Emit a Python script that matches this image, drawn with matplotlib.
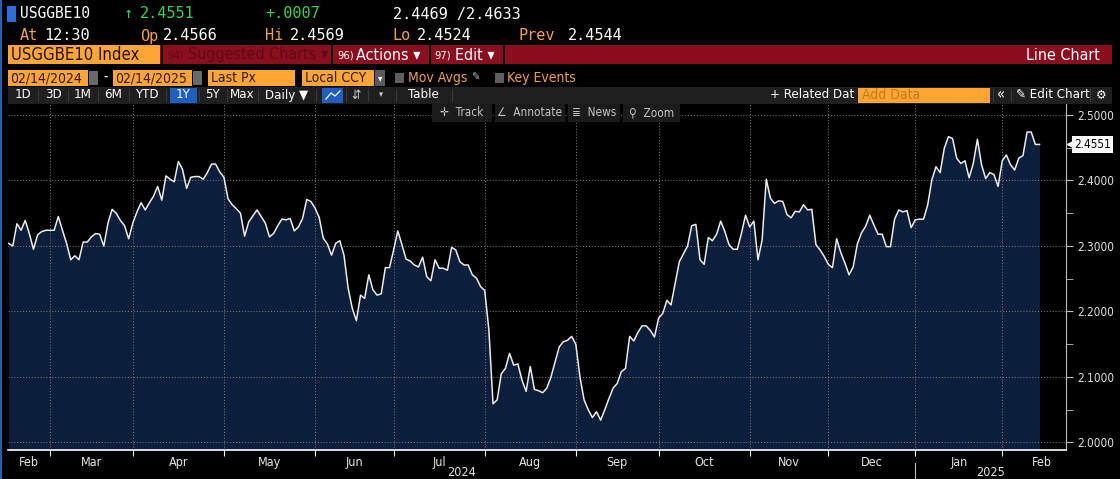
import numpy as np
import pandas as pd
import matplotlib
matplotlib.use("Agg")
import matplotlib.pyplot as plt
from matplotlib import font_manager
from matplotlib.patches import Rectangle
from matplotlib.lines import Line2D
from matplotlib.transforms import blended_transform_factory

# Header quote fields
ticker = "USGGBE10"
last_px = 2.4551
change = "+.0007"
bid_px, ask_px = 2.4469, 2.4633
quote_time = "12:30"
open_px, high_px, low_px, prev_px = 2.4566, 2.4569, 2.4524, 2.4544
start_txt, end_txt = "02/14/2024", "02/14/2025"

# US bond market holidays in the window
holidays = ["2024-02-19", "2024-03-29", "2024-05-27", "2024-06-19", "2024-07-04",
            "2024-09-02", "2024-10-14", "2024-11-11", "2024-11-28", "2024-12-25",
            "2025-01-01", "2025-01-20"]

# daily closes, one list per month
feb24 = [2.304, 2.300, 2.334, 2.324, 2.339, 2.319, 2.295, 2.317, 2.322, 2.324]
mar24 = [2.324, 2.324, 2.345, 2.324, 2.304, 2.279, 2.285, 2.279, 2.306, 2.306,
         2.314, 2.319, 2.318, 2.300, 2.335, 2.356, 2.350, 2.339, 2.331, 2.311]
apr24 = [2.335, 2.352, 2.366, 2.355, 2.366, 2.376, 2.391, 2.370, 2.407, 2.402,
         2.398, 2.429, 2.417, 2.388, 2.405, 2.406, 2.406, 2.402, 2.412, 2.425,
         2.425, 2.413]
may24 = [2.405, 2.372, 2.363, 2.357, 2.350, 2.315, 2.337, 2.346, 2.355, 2.345,
         2.335, 2.314, 2.319, 2.331, 2.341, 2.340, 2.342, 2.323, 2.329, 2.342,
         2.371, 2.368]
jun24 = [2.358, 2.344, 2.312, 2.303, 2.286, 2.304, 2.308, 2.286, 2.236, 2.205,
         2.186, 2.225, 2.220, 2.256, 2.233, 2.225, 2.227, 2.267, 2.267]
jul24 = [2.294, 2.323, 2.302, 2.280, 2.277, 2.271, 2.268, 2.283, 2.253, 2.247,
         2.279, 2.266, 2.266, 2.263, 2.298, 2.294, 2.276, 2.271, 2.271, 2.256,
         2.251, 2.238]
aug24 = [2.232, 2.172, 2.059, 2.065, 2.105, 2.113, 2.136, 2.118, 2.120, 2.095,
         2.078, 2.116, 2.081, 2.079, 2.076, 2.083, 2.100, 2.123, 2.146, 2.154,
         2.156, 2.162]
sep24 = [2.150, 2.100, 2.065, 2.050, 2.038, 2.047, 2.034, 2.050, 2.067, 2.083,
         2.090, 2.108, 2.113, 2.162, 2.155, 2.168, 2.178, 2.178, 2.171, 2.161]
oct24 = [2.190, 2.197, 2.217, 2.210, 2.243, 2.276, 2.288, 2.300, 2.331, 2.333,
         2.279, 2.272, 2.313, 2.308, 2.318, 2.338, 2.322, 2.302, 2.295, 2.295,
         2.319, 2.347]
nov24 = [2.329, 2.338, 2.279, 2.309, 2.402, 2.373, 2.365, 2.369, 2.368, 2.348,
         2.343, 2.353, 2.352, 2.363, 2.355, 2.356, 2.302, 2.294, 2.284]
dec24 = [2.272, 2.267, 2.311, 2.290, 2.274, 2.256, 2.268, 2.303, 2.320, 2.330,
         2.347, 2.332, 2.318, 2.318, 2.299, 2.299, 2.341, 2.355, 2.352, 2.354,
         2.328]
jan25 = [2.340, 2.341, 2.341, 2.363, 2.401, 2.421, 2.412, 2.449, 2.467, 2.464,
         2.434, 2.426, 2.430, 2.404, 2.426, 2.463, 2.424, 2.403, 2.412, 2.409,
         2.391]
feb25 = [2.430, 2.439, 2.424, 2.416, 2.434, 2.438, 2.474, 2.474, 2.455, 2.4551]

y_ticks = [2.0, 2.1, 2.2, 2.3, 2.4, 2.5]

values = np.array(feb24 + mar24 + apr24 + may24 + jun24 + jul24 + aug24 +
                  sep24 + oct24 + nov24 + dec24 + jan25 + feb25)
dates = pd.bdate_range("2024-02-15", "2025-02-14", freq="C", holidays=holidays)
x = np.arange(len(dates))

W, H = 1120, 479
BG = "black"
NAVY = "#0b1f3c"
AMBER = "#ffa533"
ORANGE = "#f0a04b"
GREEN = "#35d44f"
RED_BAR = "#8b0e1f"

# narrow-ish UI font: condensed DejaVu if present, else Liberation Sans
fonts = font_manager.fontManager.ttflist
if any(f.name == "DejaVu Sans" and f.stretch == "condensed" for f in fonts):
    plt.rcParams["font.stretch"] = "condensed"
    FONT = ["DejaVu Sans"]
else:
    FONT = ["Liberation Sans", "DejaVu Sans"]
MONO = ["DejaVu Sans Mono", "DejaVu Sans"]
plt.rcParams["font.family"] = FONT

fig = plt.figure(figsize=(W / 100, H / 100), dpi=100, facecolor=BG)


def txt(x0, y0, s, color="white", size=10, ha="left", family=None, **kw):
    fig.text(x0 / W, 1 - y0 / H, s, color=color, fontsize=size, ha=ha,
             va="center", family=family or FONT, **kw)


def box(x0, y0, x1, y1, color, z=1):
    fig.add_artist(Rectangle((x0 / W, 1 - y1 / H), (x1 - x0) / W, (y1 - y0) / H,
                             transform=fig.transFigure, facecolor=color,
                             edgecolor="none", zorder=z))


# ---- chart ----
ax = fig.add_axes([8 / W, 1 - 450 / H, (1066 - 8) / W, (450 - 104) / H])
ax.set_facecolor(BG)
y_bottom, y_top = 1.9885, 2.5168
ax.fill_between(x, values, y_bottom, color=NAVY, lw=0, zorder=1)
ax.plot(x, values, color="#ececec", lw=1.1, zorder=2)
ax.set_xlim(-0.15, 255.4)
ax.set_ylim(y_bottom, y_top)
ax.set_axisbelow("line")

# month boundaries and label centres
month_starts = [i for i in range(1, len(dates)) if dates[i].month != dates[i - 1].month]
feb_full = len(pd.bdate_range("2025-02-01", "2025-02-28", freq="C", holidays=["2025-02-17"]))
edges = [0] + month_starts + [month_starts[-1] + feb_full]
mids = [(a + b) / 2 for a, b in zip(edges[:-1], edges[1:])]
mlabels = [dates[0].strftime("%b")] + [dates[i].strftime("%b") for i in month_starts]

ax.set_xticks(month_starts)
ax.set_xticklabels([])
ax.set_xticks(mids, minor=True)
ax.set_xticklabels(mlabels, minor=True)
ax.tick_params(axis="x", which="major", length=4, color="white", direction="out")
ax.tick_params(axis="x", which="minor", length=0, pad=4, labelcolor="#e6e6e6", labelsize=9)

ax.yaxis.tick_right()
ax.set_yticks(y_ticks)
ax.set_yticklabels([f"{v:.4f}" for v in y_ticks])
ax.set_yticks([v + 0.05 for v in y_ticks[:-1]], minor=True)
ax.tick_params(axis="y", which="both", length=5, color="#bdbdbd", direction="out",
               pad=3, labelcolor="#e0e0e0", labelsize=8.5)

ax.grid(which="major", color="#808080", linestyle=(0, (1, 2)), lw=0.7)
for s in ["left", "top"]:
    ax.spines[s].set_visible(False)
ax.spines["bottom"].set_color("white")
ax.spines["bottom"].set_linewidth(1.2)
ax.spines["right"].set_color("#bdbdbd")

# year labels and separator
blend = blended_transform_factory(ax.transData, ax.transAxes)
jan_idx = [i for i in month_starts if dates[i].month == 1][0]
ax.text((ax.get_xlim()[0] + jan_idx) / 2, -0.064, str(dates[0].year), transform=blend,
        ha="center", va="center", color="#e6e6e6", fontsize=9)
ax.text((jan_idx + ax.get_xlim()[1]) / 2, -0.064, str(dates[-1].year), transform=blend,
        ha="center", va="center", color="#e6e6e6", fontsize=9)
ax.plot([jan_idx, jan_idx], [-0.038, -0.09], transform=blend, color="#bdbdbd",
        lw=0.8, clip_on=False)

# last price tag
tag = blended_transform_factory(ax.transAxes, ax.transData)
ax.plot([1.004], [values[-1]], marker="<", ms=5, color="white", transform=tag, clip_on=False)
ax.text(1.0075, values[-1], f"{values[-1]:.4f}", transform=tag, ha="left", va="center",
        color="black", fontsize=8.5,
        bbox=dict(boxstyle="square,pad=0.2", fc="white", ec="none"))

# ---- header ----
box(0, 0, 2, H, "#2a5fb0", z=5)
box(7, 6, 16, 22, "#2d6fd8")
txt(20, 14, ticker, size=10.5, family=MONO)
txt(124, 14, "\u2191", GREEN, 11, family=MONO)
txt(140, 14, f"{last_px:.4f}", GREEN, 11, family=MONO)
txt(265, 14, change, GREEN, 11, family=MONO)
txt(393, 14, f"{bid_px:.4f} /{ask_px:.4f}", size=11, family=MONO)

for lab, lx, val, vx in [("At", 20, quote_time, 44), ("Op", 140, f"{open_px:.4f}", 163),
                         ("Hi", 265, f"{high_px:.4f}", 290), ("Lo", 392, f"{low_px:.4f}", 417),
                         ("Prev", 518, f"{prev_px:.4f}", 568)]:
    txt(lx, 36, lab, ORANGE, 11, family=MONO)
    txt(vx, 36, val, "white", 11, family=MONO)

# red menu bar
box(160, 45, 1112, 64, RED_BAR)
box(8, 45, 160, 64, AMBER)
txt(11, 55, f"{ticker} Index", "#1a1200", 12)
for sx in [161, 331, 429, 503]:
    box(sx, 45, sx + 2, 64, "black", z=2)
txt(167, 55, "94)", "#5c0b16", 8)
txt(188, 55, "Suggested Charts \u25be", "#5c0b16", 11.5)
txt(337, 55, "96)", "white", 8)
txt(356, 55, "Actions \u25be", "white", 11.5)
txt(434, 55, "97)", "white", 8)
txt(455, 55, "Edit \u25be", "white", 11.5)
txt(1100, 55, "Line Chart", "white", 11.5, ha="right")

# date / field row
box(8, 70, 88, 86, AMBER)
txt(10, 78, start_txt, "#2b1a00", 10)
box(89, 71, 98, 85, "#6a6a6a")
txt(103, 78, "-", "white", 10)
box(113, 70, 192, 86, AMBER)
txt(115, 78, end_txt, "#2b1a00", 10)
box(193, 71, 202, 85, "#6a6a6a")
box(208, 70, 295, 86, AMBER)
txt(211, 78, "Last Px", "#2b1a00", 10)
box(302, 70, 374, 86, AMBER)
txt(305, 78, "Local CCY", "#2b1a00", 10)
box(375, 70, 385, 86, "#5a5a5a")
txt(380, 78, "\u25be", "white", 7, ha="center")
box(395, 73, 404, 83, "#5e5e5e")
txt(408, 78, "Mov Avgs", ORANGE, 10)
txt(471, 78, "\u270e", "#bbbbbb", 8)
box(495, 73, 504, 83, "#5e5e5e")
txt(507, 78, "Key Events", ORANGE, 10)

# button row
box(8, 87, 1112, 104, "#1f1f1f")
box(170, 88, 197, 103, "#1f5fc4", z=2)
box(322, 88, 343, 103, "#1f5fc4", z=2)
fig.add_artist(Line2D([326 / W, 331 / W, 335 / W, 340 / W],
                      [1 - 99 / H, 1 - 93 / H, 1 - 96 / H, 1 - 91 / H],
                      color="white", lw=0.9, transform=fig.transFigure, zorder=3))
for sx in [38, 68, 98, 129, 166, 199, 227, 258, 316, 346, 368, 396, 452]:
    box(sx, 89, sx + 1, 102, "#3a3a3a", z=2)
for lab, cx in [("1D", 23), ("3D", 53), ("1M", 83), ("6M", 113), ("YTD", 147),
                ("1Y", 183), ("5Y", 212), ("Max", 242), ("Daily \u25bc", 287)]:
    txt(cx, 95, lab, "white", 9.5, ha="center")
txt(356, 95, "\u21f5", "#cccccc", 9, ha="center")
txt(381, 95, "\u25be", "#cccccc", 6.5, ha="center")
txt(423, 95, "Table", "white", 9.5, ha="center")
txt(770, 95, "+ Related Dat", "white", 9.5)
box(858, 88, 990, 103, AMBER, z=2)
txt(862, 95, "Add Data", "#c47a1c", 10)
for sx in [993, 1011, 1090]:
    box(sx, 89, sx + 1, 102, "#3a3a3a", z=2)
txt(1001, 95, "\u00ab", "white", 10.5, ha="center")
txt(1016, 95, "\u270e Edit Chart", "white", 9.5)
txt(1101, 95, "\u2699", "white", 9.5, ha="center")

# chart toolbar
for (x0, x1), lab in zip([(432, 492), (495, 565), (568, 620), (623, 680)],
                         ["\u271b  Track", "\u2220  Annotate", "\u2263  News", "\u26b2  Zoom"]):
    box(x0, 104, x1, 122, "#1b1b1b", z=4)
    txt((x0 + x1) / 2, 113, lab, "#c4c4c4", 8.5, ha="center", zorder=5)

fig.savefig("out.png", dpi=100, facecolor=BG)
